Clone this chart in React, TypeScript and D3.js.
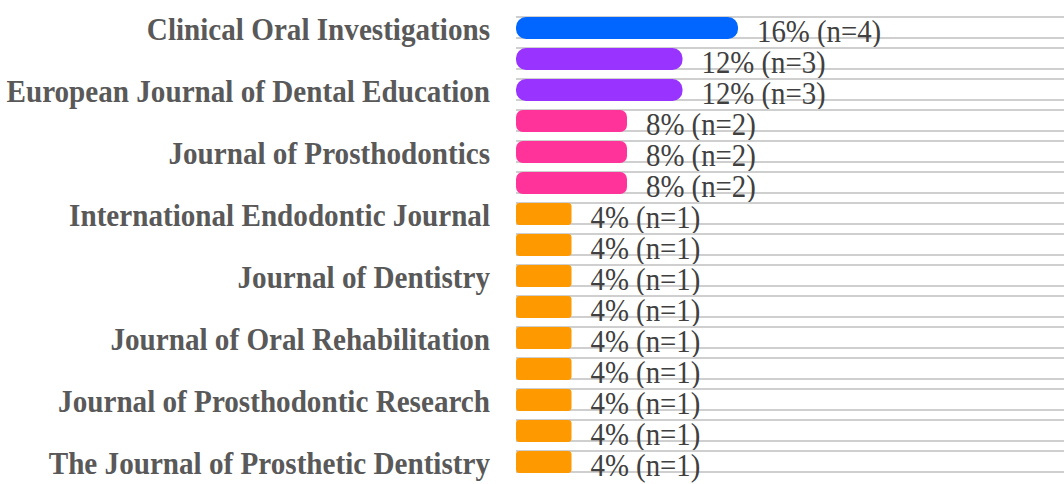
import React from 'react';
import * as d3 from 'd3';

// journals, top to bottom (only every other name is printed on the axis)
const journals = [
  'Clinical Oral Investigations',
  '',
  'European Journal of Dental Education',
  '',
  'Journal of Prosthodontics',
  '',
  'International Endodontic Journal',
  '',
  'Journal of Dentistry',
  '',
  'Journal of Oral Rehabilitation',
  '',
  'Journal of Prosthodontic Research',
  '',
  'The Journal of Prosthetic Dentistry',
];
const counts = [4, 3, 3, 2, 2, 2, 1, 1, 1, 1, 1, 1, 1, 1, 1];
const percents = [16, 12, 12, 8, 8, 8, 4, 4, 4, 4, 4, 4, 4, 4, 4];
const countColors = ['#ff9900', '#ff3399', '#9933ff', '#0066ff']; // n = 1..4

export default function App() {
  const width = 1064, height = 484;
  const left = 516, top = 17;

  const y = d3.scaleBand<number>()
    .domain(d3.range(journals.length))
    .range([top, top + journals.length * 31 - 9])
    .paddingInner(9 / 31)
    .paddingOuter(0);

  const x = d3.scaleLinear().domain([0, 16]).range([left, 738]);
  const color = d3.scaleOrdinal<number, string>().domain([1, 2, 3, 4]).range(countColors);
  const bw = y.bandwidth();

  return (
    <svg width={width} height={height} style={{ position: 'absolute', left: 0, top: 0, background: '#fff' }}>
      {journals.map((name, i) => {
        const y0 = y(i)!;
        const w = x(percents[i]) - x(0);
        return (
          <g key={i}>
            <line x1={x(0)} x2={width} y1={y0} y2={y0} stroke="#cfcfcf" strokeWidth={2} />
            <line x1={x(0)} x2={width} y1={y0 + bw - 1} y2={y0 + bw - 1} stroke="#cfcfcf" strokeWidth={2} />
            <rect x={x(0)} y={y0} width={w} height={bw} rx={Math.min(10, w / 16)} fill={color(counts[i])} />
            <text transform={`translate(${x(percents[i]) + 19},${y0 + bw / 2 + 14}) scale(0.9,1)`}
              fontFamily="'Liberation Serif', serif" fontSize={32} fill="#404040">
              {`${percents[i]}% (n=${counts[i]})`}
            </text>
            {name && (
              <text transform={`translate(490,${y0 + bw / 2 + 12}) scale(0.94,1)`} textAnchor="end"
                fontFamily="'Liberation Serif', serif" fontWeight="bold" fontSize={31} fill="#595959">
                {name}
              </text>
            )}
          </g>
        );
      })}
    </svg>
  );
}
